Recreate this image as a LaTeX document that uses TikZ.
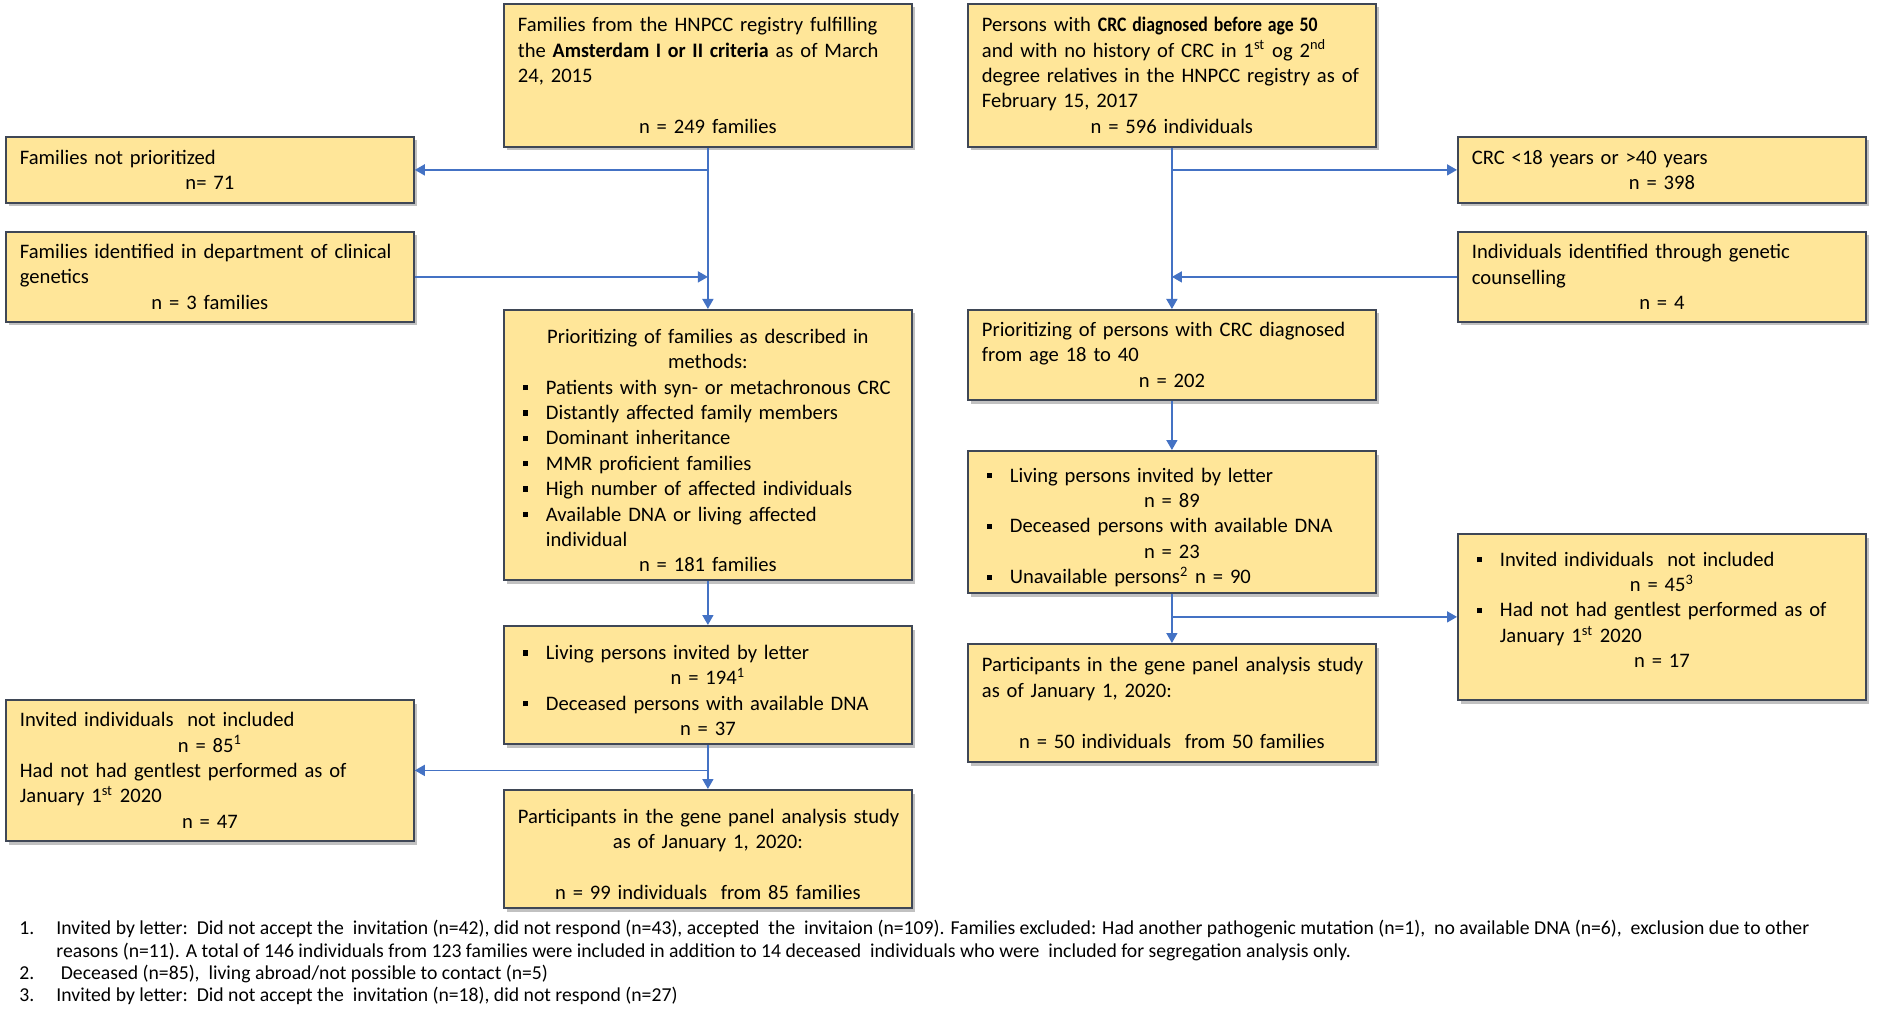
\documentclass[tikz,border=0pt]{standalone}
\usepackage{fontspec}
\setmainfont{Carlito}
\usepackage{graphicx}
\usepackage{xcolor}
\usepackage{tikz}
\usetikzlibrary{arrows.meta,shadows,calc}
\definecolor{boxfill}{HTML}{FFE699}
\definecolor{boxline}{HTML}{3F4756}
\definecolor{flowblue}{HTML}{4472C4}
\newcommand{\boxfont}{\fontsize{10.3}{12.7}\selectfont}
\newcommand{\notefont}{\fontsize{9.85}{11.25}\selectfont}
\newcommand{\midline}[1]{\par{\centering #1\par}}
\newcommand{\bulline}[1]{\par\hangindent=14pt\hangafter=1\noindent\makebox[14pt][l]{\hspace{2.5pt}\rule[1.9pt]{2.7pt}{2.7pt}}#1\par}
\newcommand{\blankline}{\par\mbox{}\par}
\tikzstyle{flowbox}=[draw=boxline, line width=0.9pt, fill=boxfill, anchor=north west, inner xsep=7pt, inner ysep=0pt, text width=190pt, align=left, font=\boxfont, drop shadow={shadow xshift=1.6pt, shadow yshift=-1.8pt, fill=black!60, opacity=0.4}]
\tikzstyle{flowarrow}=[draw=flowblue, line width=0.8pt, -{Triangle[length=5pt,width=5.5pt]}]
\tikzstyle{footnote}=[anchor=west, inner sep=0pt, font=\notefont]

\begin{document}
\begin{tikzpicture}[x=0.5pt, y=-0.5pt]
		\useasboundingbox[fill=white] (0,0) rectangle (1877,1010);
		\node[flowbox, minimum height=71.5pt] (famall) at (503,3) {Families from the HNPCC registry fulfilling\\ the \scalebox{0.97}[1]{\textbf{Amsterdam I or II criteria}} as of March\\ 24, 2015\blankline\midline{n = 249 families}};
		\node[flowbox, minimum height=33pt] (notprio) at (5,136) {Families not prioritized\midline{n= 71}};
		\node[flowbox, minimum height=45pt] (identified) at (5,231) {Families identified\ in department of clinical\\ genetics\midline{n = 3 families}};
		\node[flowbox, minimum height=135pt] (famprio) at (503,309) {\midline{Prioritizing of families as described in\\ methods:}\bulline{Patients with syn- or metachronous CRC}\bulline{Distantly affected family members}\bulline{Dominant inheritance}\bulline{MMR proficient families}\bulline{High number of affected individuals}\bulline{Available DNA or living affected\newline individual}\midline{n = 181 families}};
		\node[flowbox, minimum height=59pt] (livingL) at (503,625) {\bulline{Living persons\ invited by letter}\midline{n = 194\textsuperscript{1}}\bulline{Deceased persons\ with available DNA}\midline{n = 37}};
		\node[flowbox, minimum height=70.5pt] (invitedL) at (5,699) {Invited individuals\ \ not included\midline{n = 85\textsuperscript{1}}Had not had gentlest performed as of\\ January 1\textsuperscript{st} 2020\midline{n = 47}};
		\node[flowbox, minimum height=59pt] (particL) at (503,789) {\midline{\mbox{Participants in the gene panel analysis study}\\ as of January 1, 2020:}\blankline\midline{n = 99 individuals\ \ from 85 families}};

		\node[flowbox, minimum height=71.5pt] (persall) at (967,3) {Persons\ with \scalebox{0.86}[1]{\textbf{CRC diagnosed before age 50}}\\ and with no history of CRC in 1\textsuperscript{st} og 2\textsuperscript{nd}\\ degree relatives in the HNPCC registry as of\\ February 15, 2017\midline{n = 596 individuals}};
		\node[flowbox, minimum height=33pt] (agecut) at (1457,136) {CRC <18 years or >40 years\midline{n = 398}};
		\node[flowbox, minimum height=45pt] (counsel) at (1457,231) {Individuals\ identified\ through genetic\\ counselling\midline{n = 4}};
		\node[flowbox, minimum height=45pt] (persprio) at (967,309) {Prioritizing of persons\ with CRC diagnosed\\ from age 18 to 40\midline{n = 202}};
		\node[flowbox, minimum height=71pt] (livingR) at (967,450) {\bulline{Living persons\ invited by letter}\midline{n = 89}\bulline{Deceased persons\ with available DNA}\midline{n = 23}\bulline{Unavailable persons\textsuperscript{2} n = 90}};
		\node[flowbox, minimum height=83pt] (invitedR) at (1457,533) {\bulline{Invited individuals\ \ not included}\midline{n = 45\textsuperscript{3}}\bulline{Had not had gentlest performed as of\newline January 1\textsuperscript{st} 2020}\midline{n = 17}\blankline};
		\node[flowbox, minimum height=59pt] (particR) at (967,643) {\mbox{Participants in the gene panel analysis study}\\ as of January 1, 2020:\blankline\midline{n = 50 individuals\ \ from 50 families}};

		\coordinate (famsplit) at (famall.south |- notprio.east);
		\coordinate (famjoin) at (famall.south |- identified.east);
		\coordinate (livLsplit) at (livingL.south |- invitedL.east);
		\coordinate (perssplit) at (persall.south |- agecut.west);
		\coordinate (persjoin) at (persall.south |- counsel.west);
		\coordinate (livRsplit) at (livingR.south |- invitedR.west);

		\draw[flowarrow] (famall.south) -- (famprio.north);
		\draw[flowarrow] (famsplit) -- (notprio.east);
		\draw[flowarrow] (identified.east) -- (famjoin);
		\draw[flowarrow] (famprio.south) -- (livingL.north);
		\draw[flowarrow] (livingL.south) -- (particL.north);
		\draw[flowarrow] (livLsplit) -- (invitedL.east);

		\draw[flowarrow] (persall.south) -- (persprio.north);
		\draw[flowarrow] (perssplit) -- (agecut.west);
		\draw[flowarrow] (counsel.west) -- (persjoin);
		\draw[flowarrow] (persprio.south) -- (livingR.north);
		\draw[flowarrow] (livingR.south) -- (particR.north);
		\draw[flowarrow] (livRsplit) -- (invitedR.west);

		\node[footnote] (noteA) at (19,929) {\makebox[18.5pt][l]{1.}Invited by letter:\ \ Did not accept the\ \ invitation (n=42), did not respond (n=43), accepted\ \ the\ \ invitaion (n=109). Families excluded: Had another pathogenic mutation (n=1),\ \ no available DNA (n=6),\ \ exclusion due to other};
		\node[footnote] (noteB) at (56,952) {reasons (n=11). A total of 146 individuals from 123 families were included in addition to 14 deceased\ \ individuals who were\ \ included for segregation analysis only.};
		\node[footnote] (noteC) at (19,974) {\makebox[18.5pt][l]{2.}\ Deceased (n=85),\ \ living abroad/not possible to contact (n=5)};
		\node[footnote] (noteD) at (19,996) {\makebox[18.5pt][l]{3.}Invited by letter:\ \ Did not accept the\ \ invitation (n=18), did not respond (n=27)};
	\end{tikzpicture}
\end{document}
